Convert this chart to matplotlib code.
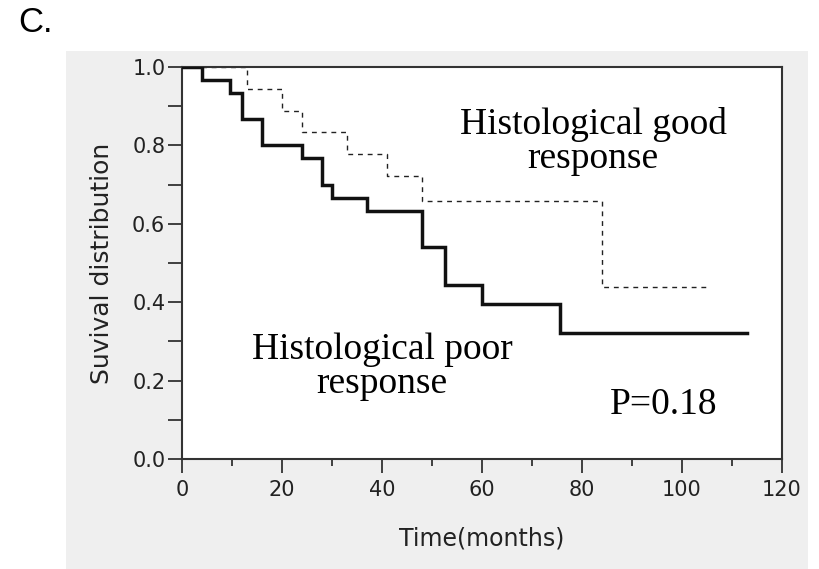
import matplotlib.pyplot as plt
from matplotlib.patches import Rectangle

# Kaplan-Meier step data
poor_times = [0, 4, 9.5, 12, 16, 24, 28, 30, 37, 48, 52.5, 60, 75.5, 113]
poor_surv = [1.0, 0.967, 0.933, 0.867, 0.800, 0.767, 0.700, 0.667, 0.633, 0.541, 0.444, 0.395, 0.321, 0.321]

good_times = [0, 13, 20, 24, 33, 41, 48, 84, 105]
good_surv = [1.0, 0.944, 0.889, 0.833, 0.778, 0.722, 0.657, 0.438, 0.438]

x_ticks = [0, 20, 40, 60, 80, 100, 120]
y_ticks = [0.0, 0.2, 0.4, 0.6, 0.8, 1.0]

fig = plt.figure(figsize=(8.19, 5.69), dpi=100)
W, H = 819, 569

# light gray panel behind the plot
fig.patches.append(Rectangle((66 / W, 0), (808 - 66) / W, (569 - 51) / H,
                             transform=fig.transFigure, facecolor='#efefef',
                             edgecolor='none', zorder=-5))

ax = fig.add_axes([182 / W, 110 / H, 600 / W, 392 / H])
ax.set_zorder(2)
ax.set_facecolor('white')

ax.step(poor_times, poor_surv, where='post', color='#111111', linewidth=2.5,
        solid_joinstyle='miter', zorder=3)
ax.step(good_times, good_surv, where='post', color='#222222', linewidth=1.0,
        linestyle=(0, (3.5, 3.5)), zorder=2)

ax.set_xlim(0, 120)
ax.set_ylim(0, 1.0)
ax.set_xticks(x_ticks)
ax.set_xticks(range(10, 120, 20), minor=True)
ax.set_yticks(y_ticks)
ax.set_yticks([0.1, 0.3, 0.5, 0.7, 0.9], minor=True)
ax.set_yticklabels([f'{v:.1f}' for v in y_ticks])

ax.tick_params(axis='x', which='major', direction='out', length=10, width=1.2,
               colors='#222222', labelsize=15, pad=5)
ax.tick_params(axis='x', which='minor', direction='out', length=5, width=1.2,
               colors='#222222')
ax.tick_params(axis='y', which='both', direction='out', length=10, width=1.2,
               colors='#222222', labelsize=15, pad=2)

for s in ax.spines.values():
    s.set_color('#333333')
    s.set_linewidth(1.5)

ax.set_xlabel('Time(months)', fontsize=17, color='#222222', labelpad=19)
ax.set_ylabel('Suvival distribution', fontsize=18, color='#222222', labelpad=13)

serif = 'Liberation Serif'
ax.text(82.2, 0.81, 'Histological good\nresponse', family=serif, fontsize=27,
        ha='center', va='center', linespacing=1.0)
ax.text(40, 0.235, 'Histological poor\nresponse', family=serif, fontsize=27,
        ha='center', va='center', linespacing=1.0)
ax.text(96.4, 0.139, 'P=0.18', family=serif, fontsize=27, ha='center', va='center')

fig.text(18 / W, 1 - 23 / H, 'C.', family='Liberation Sans', fontsize=25,
         ha='left', va='center')

fig.savefig('out.png', dpi=100, facecolor='white')
